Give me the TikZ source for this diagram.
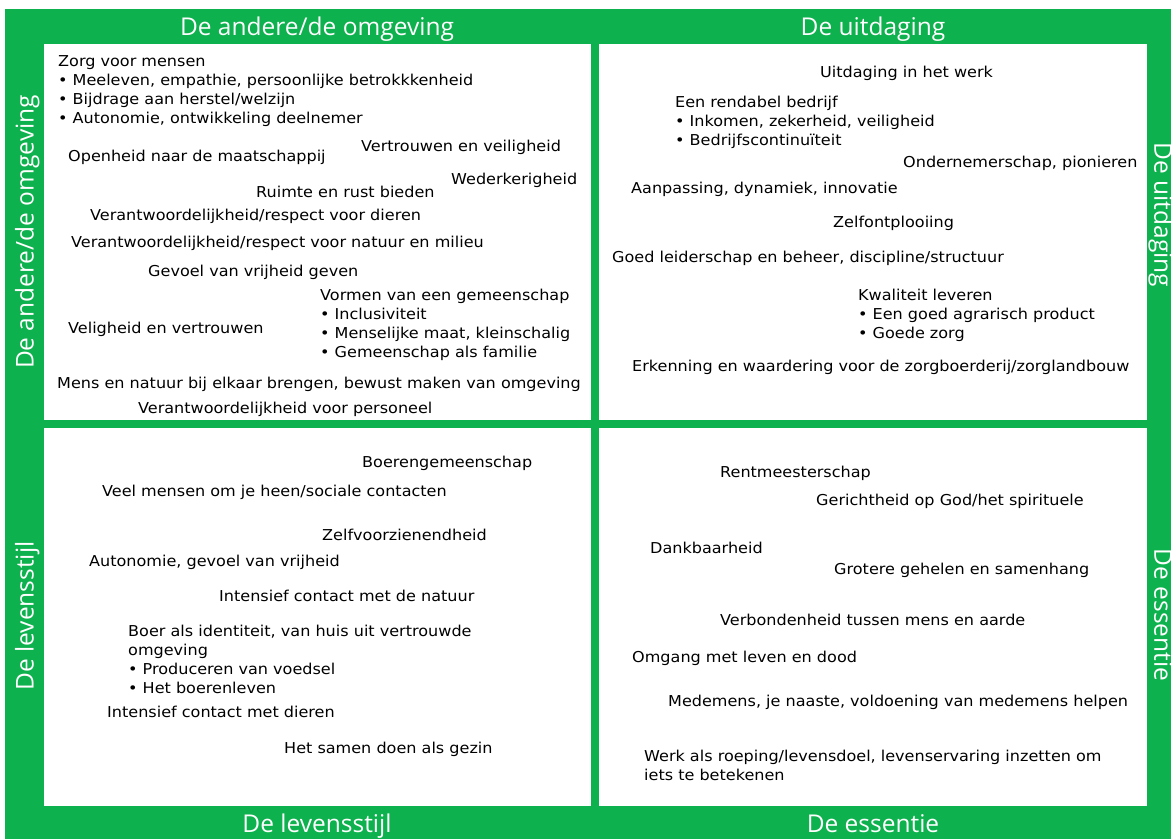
\documentclass[tikz,border=0pt]{standalone}
\usepackage{fontspec}
\setmainfont[FakeStretch=1.07]{DejaVu Sans}
\newfontfamily\titlefont{Open Sans}
\definecolor{brandgreen}{RGB}{13,177,77}
\newcommand\itembul{\makebox[14.5pt][l]{•}}
\begin{document}
\begin{tikzpicture}[x=1pt,y=-1pt,
  item/.style={anchor=west,inner sep=0pt,font=\fontsize{15}{18}\selectfont,text height=11pt,text depth=3pt},
  title/.style={font=\titlefont\fontsize{24.5}{28}\selectfont,text=white,inner sep=0pt,text height=17.5pt,text depth=0pt},
  panel/.style={fill=white,draw=none}]
\useasboundingbox (0,0) rectangle (1171,839);
\fill[white] (0,0) rectangle (1171,839);
\fill[brandgreen] (5,9) rectangle (1171,839);
\fill[panel] (44,44) rectangle (591,420);
\fill[panel] (599,44) rectangle (1147,420);
\fill[panel] (44,428) rectangle (591,806);
\fill[panel] (599,428) rectangle (1147,806);
% titles
\node[title] (tTL) at (317,26.5) {De andere/de omgeving};
\node[title] (tTR) at (873,26.5) {De uitdaging};
\node[title] (tBL) at (317,824) {De levensstijl};
\node[title] (tBR) at (873,824) {De essentie};
\node[title,rotate=90] (lT) at (25,232) {De andere/de omgeving};
\node[title,rotate=90] (lB) at (25,616) {De levensstijl};
\node[title,rotate=-90] (rT) at (1163,215) {De uitdaging};
\node[title,rotate=-90] (rB) at (1163,615) {De essentie};
% top-left
\node[item] (a1) at (58,62) {Zorg voor mensen};
\node[item] (a2) at (58,81) {\itembul Meeleven, empathie, persoonlijke betrokkkenheid};
\node[item] (a3) at (58,100) {\itembul Bijdrage aan herstel/welzijn};
\node[item] (a4) at (58,119) {\itembul Autonomie, ontwikkeling deelnemer};
\node[item] (a5) at (361,147) {Vertrouwen en veiligheid};
\node[item] (a6) at (68,157) {Openheid naar de maatschappij};
\node[item] (a7) at (451,180) {Wederkerigheid};
\node[item] (a8) at (256,193) {Ruimte en rust bieden};
\node[item] (a9) at (90,216) {Verantwoordelijkheid/respect voor dieren};
\node[item] (a10) at (71,243) {Verantwoordelijkheid/respect voor natuur en milieu};
\node[item] (a11) at (148,272) {Gevoel van vrijheid geven};
\node[item] (a12) at (320,296) {Vormen van een gemeenschap};
\node[item] (a13) at (320,315) {\itembul Inclusiviteit};
\node[item] (a14) at (320,334) {\itembul Menselijke maat, kleinschalig};
\node[item] (a15) at (320,353) {\itembul Gemeenschap als familie};
\node[item] (a16) at (68,329) {Veligheid en vertrouwen};
\node[item] (a17) at (57,384) {Mens en natuur bij elkaar brengen, bewust maken van omgeving};
\node[item] (a18) at (138,409) {Verantwoordelijkheid voor personeel};
% top-right
\node[item] (b1) at (820,73) {Uitdaging in het werk};
\node[item] (b2) at (675,103) {Een rendabel bedrijf};
\node[item] (b3) at (675,122) {\itembul Inkomen, zekerheid, veiligheid};
\node[item] (b4) at (675,141) {\itembul Bedrijfscontinuïteit};
\node[item] (b5) at (903,163) {Ondernemerschap, pionieren};
\node[item] (b6) at (631,189) {Aanpassing, dynamiek, innovatie};
\node[item] (b7) at (833,223) {Zelfontplooiing};
\node[item] (b8) at (612,258) {Goed leiderschap en beheer, discipline/structuur};
\node[item] (b9) at (858,296) {Kwaliteit leveren};
\node[item] (b10) at (858,315) {\itembul Een goed agrarisch product};
\node[item] (b11) at (858,334) {\itembul Goede zorg};
\node[item] (b12) at (632,367) {Erkenning en waardering voor de zorgboerderij/zorglandbouw};
% bottom-left
\node[item] (c1) at (362,463) {Boerengemeenschap};
\node[item] (c2) at (102,492) {Veel mensen om je heen/sociale contacten};
\node[item] (c3) at (322,536) {Zelfvoorzienendheid};
\node[item] (c4) at (89,562) {Autonomie, gevoel van vrijheid};
\node[item] (c5) at (219,597) {Intensief contact met de natuur};
\node[item] (c6) at (128,632) {Boer als identiteit, van huis uit vertrouwde};
\node[item] (c7) at (128,651) {omgeving};
\node[item] (c8) at (128,670) {\itembul Produceren van voedsel};
\node[item] (c9) at (128,689) {\itembul Het boerenleven};
\node[item] (c10) at (107,713) {Intensief contact met dieren};
\node[item] (c11) at (284,749) {Het samen doen als gezin};
% bottom-right
\node[item] (d1) at (720,473) {Rentmeesterschap};
\node[item] (d2) at (816,501) {Gerichtheid op God/het spirituele};
\node[item] (d3) at (650,549) {Dankbaarheid};
\node[item] (d4) at (834,570) {Grotere gehelen en samenhang};
\node[item] (d5) at (720,621) {Verbondenheid tussen mens en aarde};
\node[item] (d6) at (632,658) {Omgang met leven en dood};
\node[item] (d7) at (668,702) {Medemens, je naaste, voldoening van medemens helpen};
\node[item] (d8) at (644,757) {Werk als roeping/levensdoel, levenservaring inzetten om};
\node[item] (d9) at (644,776) {iets te betekenen};
\end{tikzpicture}
\end{document}
